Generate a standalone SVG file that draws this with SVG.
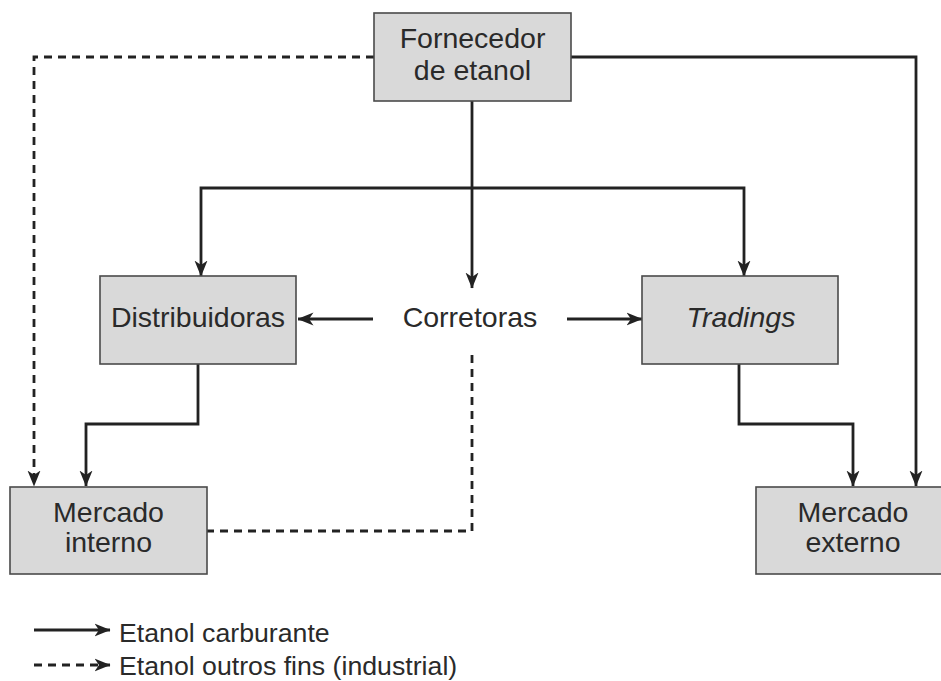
<svg xmlns="http://www.w3.org/2000/svg" width="941" height="681" viewBox="0 0 941 681">
<style>
.box{fill:#d9d9d9;stroke:#4a4a4a;stroke-width:1.6}
.t{font-family:"Liberation Sans",Arial,sans-serif;font-size:28.5px;fill:#2a2a2a;text-anchor:middle}
.lg{font-family:"Liberation Sans",Arial,sans-serif;font-size:26.7px;fill:#2a2a2a}
.c{fill:none;stroke:#222;stroke-width:2.8;stroke-linejoin:miter}
.d{fill:none;stroke:#222;stroke-width:2.8;stroke-dasharray:8 6}
</style>
<defs>
<marker id="ah" viewBox="0 0 16 14" refX="15.5" refY="7" markerWidth="16" markerHeight="14" markerUnits="userSpaceOnUse" orient="auto">
<path d="M0,0.5 L16,7 L0,13.5 L4.5,7 Z" fill="#222"/>
</marker>
</defs>
<rect width="941" height="681" fill="#fff"/>
<g id="connectors">
<path class="c" d="M472,101 V288" marker-end="url(#ah)"/>
<path class="c" d="M472,188 H201 V276" marker-end="url(#ah)"/>
<path class="c" d="M472,188 H744 V276" marker-end="url(#ah)"/>
<path class="c" d="M571,57 H916 V486" marker-end="url(#ah)"/>
<path class="c" d="M373,319 H298" marker-end="url(#ah)"/>
<path class="c" d="M567,319 H642" marker-end="url(#ah)"/>
<path class="c" d="M198,364 V424 H86 V486" marker-end="url(#ah)"/>
<path class="c" d="M739,364 V424 H853 V486" marker-end="url(#ah)"/>
<path class="d" d="M374,57 H34 V486" marker-end="url(#ah)"/>
<path class="d" d="M472,355 V531 H207"/>
</g>
<g id="fornecedor">
<rect class="box" x="374" y="13" width="197" height="88"/>
<text class="t" x="472.5" y="48">Fornecedor</text>
<text class="t" x="472.5" y="80">de etanol</text>
</g>
<g id="distribuidoras">
<rect class="box" x="100" y="276" width="196" height="88"/>
<text class="t" x="198" y="327">Distribuidoras</text>
</g>
<g id="corretoras">
<text class="t" x="470" y="327">Corretoras</text>
</g>
<g id="tradings">
<rect class="box" x="642" y="276" width="196" height="88"/>
<text class="t" x="741" y="327" font-style="italic">Tradings</text>
</g>
<g id="mercado-interno">
<rect class="box" x="10" y="487" width="197" height="87"/>
<text class="t" x="108.5" y="522">Mercado</text>
<text class="t" x="108.5" y="552">interno</text>
</g>
<g id="mercado-externo">
<rect class="box" x="756" y="487" width="196" height="87"/>
<text class="t" x="853" y="522">Mercado</text>
<text class="t" x="853" y="552">externo</text>
</g>
<g id="legend">
<path class="c" d="M34,630 H110" marker-end="url(#ah)"/>
<text class="lg" x="119" y="642">Etanol carburante</text>
<path class="d" d="M34,665 H110" marker-end="url(#ah)"/>
<text class="lg" x="119" y="675">Etanol outros fins (industrial)</text>
</g>
</svg>
